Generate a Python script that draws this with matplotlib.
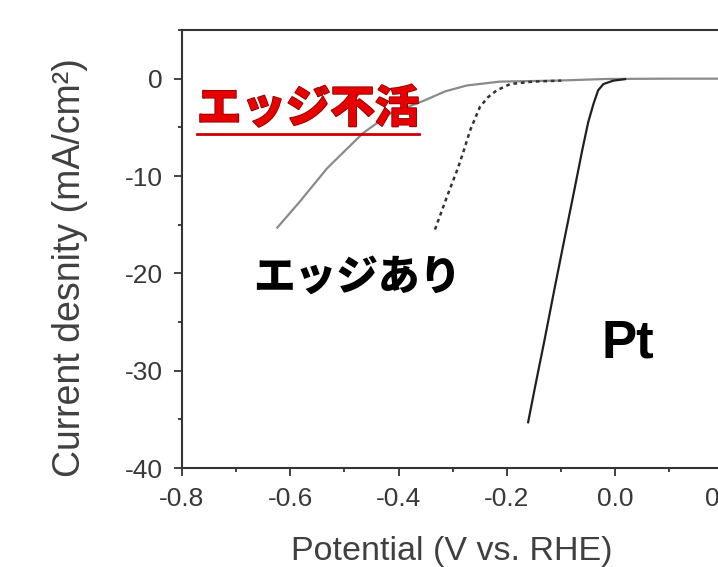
import matplotlib
matplotlib.use('Agg')
from matplotlib import pyplot as plt
from matplotlib.ticker import MultipleLocator
import matplotlib.patheffects as pe

# edge-inactive (gray solid)
inactive_x = [-0.624, -0.582, -0.532, -0.466, -0.416, -0.355, -0.314, -0.274, -0.213, -0.108, -0.016, 0.1, 0.2, 0.3, 0.4]
inactive_y = [-15.3, -12.6, -9.2, -5.6, -3.6, -2.3, -1.3, -0.7, -0.3, -0.2, -0.03, 0, 0, 0, 0]

# edge-present (dashed)
edge_x = [-0.333, -0.31, -0.290, -0.281, -0.268, -0.250, -0.235, -0.219, -0.194, -0.152, -0.10]
edge_y = [-15.5, -12.0, -9.1, -7.6, -5.3, -2.9, -1.9, -1.2, -0.55, -0.3, -0.2]

# Pt reference
pt_x = [-0.1610, -0.1476, -0.1309, -0.1127, -0.0944, -0.0759, -0.0613, -0.0502, -0.0404, -0.0318, -0.0220, -0.0035, 0.018]
pt_y = [-35.3, -31.5, -26.9, -21.7, -16.6, -11.5, -7.4, -4.5, -2.6, -1.2, -0.55, -0.2, -0.05]

x_ticks = [-0.8, -0.6, -0.4, -0.2, 0.0, 0.2, 0.4]
y_ticks = [0, -10, -20, -30, -40]

plt.rcParams['font.family'] = ['Liberation Sans', 'DejaVu Sans']
plt.rcParams['axes.unicode_minus'] = False
cjk = ['Noto Sans CJK JP', 'DejaVu Sans']

fig = plt.figure(figsize=(7.18, 5.67), dpi=100)
ax = fig.add_axes([182 / 718, 99 / 567, 650 / 718, 438 / 567])

ax.plot(inactive_x, inactive_y, color='#8a8a8a', lw=1.6)
ax.plot(edge_x, edge_y, color='#333333', lw=1.8, linestyle=(0, (1.5, 1.5)))
ax.plot(pt_x, pt_y, color='#202020', lw=1.6)

ax.set_xlim(-0.8, 0.4)
ax.set_ylim(-40, 5)
ax.set_xticks(x_ticks)
ax.set_xticklabels(['%.1f' % v for v in x_ticks])
ax.set_yticks(y_ticks)
ax.xaxis.set_minor_locator(MultipleLocator(0.1))
ax.yaxis.set_minor_locator(MultipleLocator(5))
ax.tick_params(which='both', direction='out', width=1.3, colors='#333333',
               labelcolor='#383838', labelsize=19)
ax.tick_params(which='major', length=6, pad=8)
ax.tick_params(which='minor', length=3)
for s in ['left', 'bottom', 'top']:
    ax.spines[s].set_linewidth(1.5)
    ax.spines[s].set_color('#333333')

ax.set_xlabel('Potential (V vs. RHE)', fontsize=24.5, color='#404040')
ax.xaxis.set_label_coords(0.415, -0.155)
ax.set_ylabel('Current desnity (mA/cm²)', fontsize=27, color='#404040')
ax.yaxis.set_label_coords(-0.145, 0.458)

red = ax.text(-0.567, -3.1, 'エッジ不活', family=cjk, fontsize=32, fontweight='heavy',
              color='#e60000', ha='center', va='center',
              path_effects=[pe.withStroke(linewidth=1.2, foreground='#8a0000')])
ax.text(-0.476, -20.4, 'エッジあり', family=cjk, fontsize=30, fontweight='heavy',
        color='black', ha='center', va='center')
ax.text(0.0227, -28.6, 'Pt', fontsize=38, fontweight='bold', color='black',
        ha='center', va='baseline')

# underline under the red label
fig.canvas.draw()
bb = red.get_window_extent().transformed(fig.transFigure.inverted())
fig.add_artist(plt.Line2D([bb.x0, bb.x1], [bb.y0 - 0.004, bb.y0 - 0.004],
                          color='#cc0000', lw=2, transform=fig.transFigure))

fig.savefig('out.png', dpi=100)
